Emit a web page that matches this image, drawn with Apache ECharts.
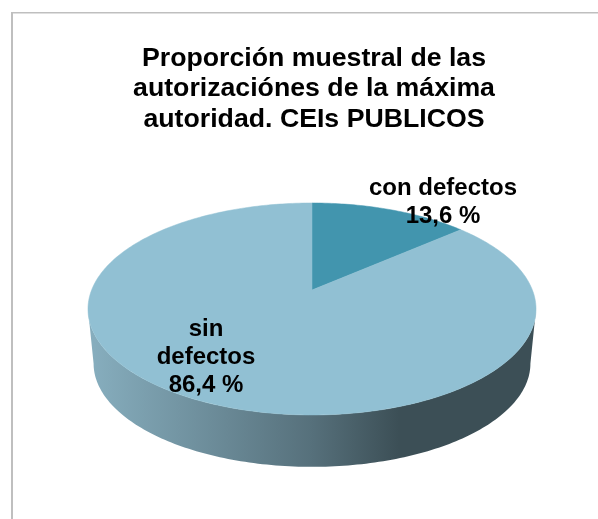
<!DOCTYPE html>
<html>
<head>
<meta charset="utf-8">
<style>html,body{margin:0;padding:0;background:#fff}#chart{width:598px;height:519px}</style>
<script src="https://cdn.jsdelivr.net/npm/echarts@6/dist/echarts.min.js"></script>
</head>
<body>
<div id="chart"></div>
<script>
// Sample shares of the authorisations, public CEIs
const categories = ['con defectos', 'sin\ndefectos'];
const shares = [13.6, 86.4];
const chartTitle = 'Proporción muestral de las\nautorizaciónes de la máxima\nautoridad. CEIs PUBLICOS';

// Slice colours for the top face
const topColors = ['#4295AE', '#91C0D3'];

// Perspective disc: centre (apex) position, radii and foreshortening
const disc = { x: 312, y: 290, a: 220.4, b: 102.6, k: 0.179 };
// The lower rim sits further from the viewer, so it is slightly smaller
const rim = { drop: 55, scale: 0.975 };
const labelAnchors = [[443, 202], [206, 357]];
const FONT = '"Liberation Sans", Arial, sans-serif';

const total = shares.reduce((s, v) => s + v, 0);

// Projects a clockwise-from-north angle on the disc to page pixels
function project(angle, radius, dy, scale) {
  const u = Math.sin(angle) * radius, t = Math.cos(angle) * radius;
  const w = 1 + disc.k * t;
  return [disc.x + scale * disc.a * u / w, disc.y + dy - scale * disc.b * t / w];
}

function arcPoints(from, to, dy, scale) {
  const n = Math.max(2, Math.ceil(Math.abs(to - from) / (Math.PI / 180)));
  const pts = [];
  for (let i = 0; i <= n; i++) pts.push(project(from + (to - from) * i / n, 1, dy, scale));
  return pts;
}

const frontStart = Math.acos(-disc.k);
const frontEnd = 2 * Math.PI - frontStart;
const wallFill = {
  type: 'linear', x: 94, y: 0, x2: 530, y2: 0, global: true,
  colorStops: [
    { offset: 0, color: '#86ADBD' },
    { offset: 0.5, color: '#56707B' },
    { offset: 0.7, color: '#3C4F56' },
    { offset: 1, color: '#3C4F56' }
  ]
};

function renderSlice(params, api) {
  const i = params.dataIndex;
  const before = shares.slice(0, i).reduce((s, v) => s + v, 0);
  const start = before / total * 2 * Math.PI;
  const end = start + api.value(1) / total * 2 * Math.PI;
  const children = [];

  // Side wall: only the part of the slice facing the viewer
  const wallFrom = Math.max(start, frontStart), wallTo = Math.min(end, frontEnd);
  if (wallTo > wallFrom) {
    const upper = arcPoints(wallFrom, wallTo, 0, 1);
    const lower = arcPoints(wallTo, wallFrom, rim.drop, rim.scale);
    children.push({
      type: 'polygon', z2: 1,
      shape: { points: upper.concat(lower) },
      style: { fill: wallFill }
    });
  }

  // Top face
  children.push({
    type: 'polygon', z2: 2 + i,
    shape: { points: [[disc.x, disc.y]].concat(arcPoints(start, end, 0, 1)) },
    style: { fill: topColors[i], stroke: topColors[i], lineWidth: 0.5 }
  });

  // Category and value label
  const pct = api.value(1).toFixed(1).replace('.', ',') + ' %';
  children.push({
    type: 'text', z2: 10,
    x: labelAnchors[i][0], y: labelAnchors[i][1],
    style: {
      text: categories[i] + '\n' + pct,
      font: 'bold 24px ' + FONT, fill: '#000',
      align: 'center', verticalAlign: 'middle', lineHeight: 28
    }
  });
  return { type: 'group', children };
}

const chart = echarts.init(document.getElementById('chart'), null, { renderer: 'canvas' });
chart.setOption({
  animation: false,
  backgroundColor: '#fff',
  title: {
    text: chartTitle, left: 309, top: 38, textAlign: 'center',
    textStyle: { fontFamily: FONT, fontWeight: 'bold', fontSize: 26.7, lineHeight: 30.5, color: '#000' }
  },
  graphic: [
    { type: 'rect', silent: true, shape: { x: 11, y: 12, width: 2, height: 507 }, style: { fill: '#BFBFBF' } },
    { type: 'rect', silent: true, shape: { x: 11, y: 12, width: 587, height: 1.5 }, style: { fill: '#BFBFBF' } }
  ],
  series: [{
    type: 'custom',
    coordinateSystem: 'none',
    data: categories.map((c, i) => [i, shares[i]]),
    renderItem: renderSlice
  }]
});
</script>
</body>
</html>
